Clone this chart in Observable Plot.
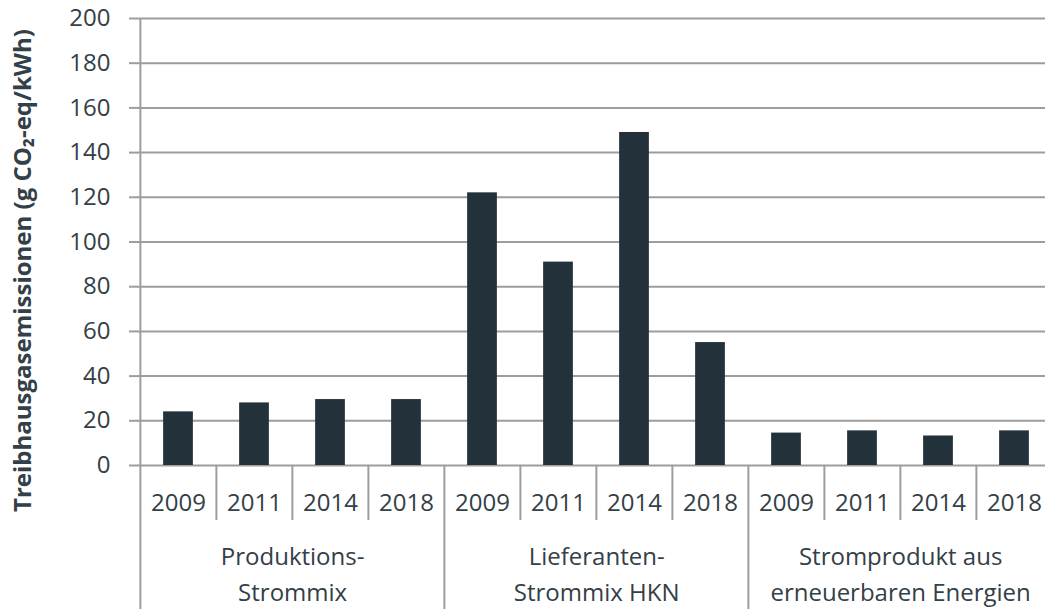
<!DOCTYPE html>
<html><head><meta charset="utf-8">
<script src="https://cdn.jsdelivr.net/npm/d3@7"></script>
<script src="https://cdn.jsdelivr.net/npm/@observablehq/plot@0.6"></script>
<style>
html,body{margin:0;padding:0;background:#fff;overflow:hidden;width:1045px;height:609px;}
#chart svg{display:block;max-width:none !important;}
</style></head><body><div id="chart"></div>
<script>
const groups = ["Produktions-\nStrommix", "Lieferanten-\nStrommix HKN", "Stromprodukt aus\nerneuerbaren Energien"];
const years = ["2009", "2011", "2014", "2018"];
const produktion = [24, 28, 29.5, 29.5];
const lieferanten = [122, 91, 149, 55];
const stromprodukt = [14.5, 15.5, 13.2, 15.5];
const yTicks = [0, 20, 40, 60, 80, 100, 120, 140, 160, 180, 200];
const yTitle = "Treibhausgasemissionen (g CO₂-eq/kWh)";

const series = [produktion, lieferanten, stromprodukt];
const data = groups.flatMap((g, gi) => years.map((yr, i) => ({group: g, gi, i, year: yr, key: gi + "|" + yr, value: series[gi][i]})));
const keys = data.map(d => d.key);
const groupData = groups.map((g, gi) => ({group: g, key: gi + "|" + years[1]}));

const W = 1055, H = 609, mL = 138, mR = 2, mT = 18, mB = 144;
const step = (W - mL - mR) / keys.length;
const grid = "#9d9d9d";
const textColor = "#334047";
const barColor = "#22313a";
const innerH = H - mT - mB;

const chart = Plot.plot({
  width: W, height: H,
  marginLeft: mL, marginRight: mR, marginTop: mT, marginBottom: mB,
  style: {fontFamily: "'Open Sans', sans-serif", fontSize: "24px", color: textColor, background: "#fff", overflow: "visible", maxWidth: "none"},
  x: {type: "band", domain: keys, padding: 0, axis: null},
  y: {domain: [0, 200], axis: null},
  marks: [
    Plot.ruleY(yTicks, {stroke: grid, strokeWidth: 2}),
    Plot.axisY({ticks: yTicks, tickSize: 9, tickPadding: 19, stroke: grid, strokeWidth: 2, fontSize: 24, label: null}),
    Plot.barY(data, {x: "key", y: "value", fill: barColor, insetLeft: (step - 30) / 2, insetRight: (step - 30) / 2}),
    // year separators
    Plot.ruleX(data.filter(d => d.i !== 0), {x: "key", dx: -step / 2, stroke: grid, strokeWidth: 2, insetTop: innerH, insetBottom: -55}),
    // group separators
    Plot.ruleX(data.filter(d => d.i === 0 && d.gi !== 0), {x: "key", dx: -step / 2, stroke: grid, strokeWidth: 2, insetTop: innerH, insetBottom: -mB}),
    // left axis line
    Plot.ruleX(data.filter(d => d.gi === 0 && d.i === 0), {x: "key", dx: -step / 2, stroke: grid, strokeWidth: 2, insetTop: 0, insetBottom: -mB}),
    Plot.axisX({tickSize: 0, tickPadding: 28, tickFormat: k => k.split("|")[1], fontSize: 24, label: null}),
    Plot.text(groupData, {x: "key", text: "group", dx: step / 2, frameAnchor: "bottom", dy: 74, lineAnchor: "top", lineHeight: 1.5, fontSize: 24, fill: textColor}),
    Plot.text([yTitle], {text: d => d, frameAnchor: "left", textAnchor: "middle", lineAnchor: "middle", rotate: -90, dx: 23 - mL, dy: 270 - (mT + innerH / 2), fontWeight: "bold", fontSize: 24, fill: textColor})
  ]
});
document.getElementById("chart").appendChild(chart);
</script>
</body></html>
